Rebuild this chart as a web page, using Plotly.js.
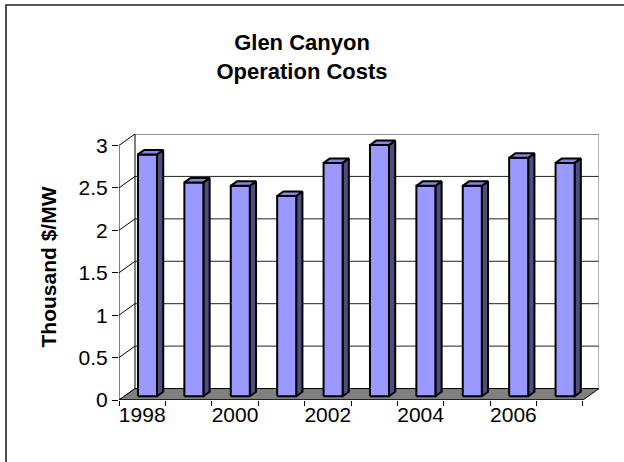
<!DOCTYPE html>
<html>
<head>
<meta charset="utf-8">
<script src="https://cdn.plot.ly/plotly-3.0.1.min.js"></script>
<style>html,body{margin:0;padding:0;background:#fff;}#chart{width:624px;height:462px;}</style>
</head>
<body>
<div id="chart"></div>
<script>
// ---- data ----
const years = [1998, 1999, 2000, 2001, 2002, 2003, 2004, 2005, 2006, 2007];
const costs = [2.85, 2.52, 2.48, 2.36, 2.75, 2.96, 2.48, 2.48, 2.81, 2.75];
const yTicks = [0, 0.5, 1, 1.5, 2, 2.5, 3];
const xLabelIdx = [0, 2, 4, 6, 8];
const xLabels = ['1998', '2000', '2002', '2004', '2006'];

// ---- 3D projection style constants ----
const DX = 0.345;   // depth offset in category units
const DY = 0.135;   // depth offset in value units
const D0 = 0.33, D1 = 0.72; // bar depth span (fraction)
const HW = 0.205;   // bar half width
const n = years.length;
const xL = -0.5, xR = n - 0.5;
const yMax = 3;

const FONT = '"Liberation Sans", Arial, sans-serif';

// back wall gridlines
const gx = [], gy = [];
yTicks.forEach(v => { gx.push(xL + DX, xR + DX, null); gy.push(v + DY, v + DY, null); });
// left wall diagonals + front axis line + back wall left edge
const lx = [], ly = [];
yTicks.forEach(v => { lx.push(xL, xL + DX, null); ly.push(v, v + DY, null); });
lx.push(xL, xL, null, xL + DX, xL + DX, null); ly.push(0, yMax, null, DY, yMax + DY, null);
// back wall right edge
const rx = [xR + DX, xR + DX], ry = [DY, yMax + DY];

// floor
const fx = [xL, xR, xR + DX, xL + DX, xL], fy = [0, 0, DY, DY, 0];

// bars
const frX = [], frY = [], sdX = [], sdY = [], tpX = [], tpY = [];
costs.forEach((v, i) => {
  const a = i - HW, b = i + HW;
  frX.push(a + D0 * DX, b + D0 * DX, b + D0 * DX, a + D0 * DX, a + D0 * DX, null);
  frY.push(D0 * DY, D0 * DY, v + D0 * DY, v + D0 * DY, D0 * DY, null);
  sdX.push(b + D0 * DX, b + D1 * DX, b + D1 * DX, b + D0 * DX, b + D0 * DX, null);
  sdY.push(D0 * DY, D1 * DY, v + D1 * DY, v + D0 * DY, D0 * DY, null);
  tpX.push(a + D0 * DX, b + D0 * DX, b + D1 * DX, a + D1 * DX, a + D0 * DX, null);
  tpY.push(v + D0 * DY, v + D0 * DY, v + D1 * DY, v + D1 * DY, v + D0 * DY, null);
});

const ln = (x, y, color, w) => ({ x, y, type: 'scatter', mode: 'lines', line: { color, width: w }, hoverinfo: 'skip', showlegend: false, connectgaps: false });
const poly = (x, y, fill, w) => ({ x, y, type: 'scatter', mode: 'lines', fill: 'toself', fillcolor: fill, line: { color: '#000', width: w }, hoverinfo: 'skip', showlegend: false });

const traces = [
  ln(gx, gy, '#222', 1),
  ln(rx, ry, '#808080', 1.2),
  ln(lx, ly, '#000', 1),
  poly(fx, fy, '#808080', 1),
  poly(sdX, sdY, '#4D4D80', 2),
  poly(frX, frY, '#9999FF', 2),
  poly(tpX, tpY, '#8585E6', 2),
  { x: [xL, xR], y: [0, 0], xaxis: 'x2', yaxis: 'y', type: 'scatter', mode: 'none', hoverinfo: 'skip', showlegend: false }
];

const plotL = 119, plotR = 599, plotT = 134, plotB = 400;
const W = 624, H = 462;
const pw = plotR - plotL, ph = plotB - plotT;

const boundaryTicks = [];
for (let i = 0; i <= n; i++) boundaryTicks.push(i - 0.5);

const layout = {
  width: W, height: H,
  margin: { l: plotL, r: W - plotR, t: plotT, b: H - plotB, pad: 0 },
  paper_bgcolor: '#fff', plot_bgcolor: 'rgba(0,0,0,0)',
  font: { family: FONT, color: '#000' },
  title: {
    text: '<b>Glen Canyon<br>Operation Costs</b>',
    font: { family: FONT, size: 22, color: '#000' },
    x: 302 / W, xref: 'container', xanchor: 'center',
    y: 1 - 50 / H, yref: 'container', yanchor: 'middle'
  },
  xaxis: {
    range: [xL, xR + DX], showgrid: false, zeroline: false, showline: false,
    tickmode: 'array', tickvals: xLabelIdx, ticktext: xLabels, ticks: '',
    tickfont: { family: FONT, size: 21, color: '#000' }, fixedrange: true
  },
  xaxis2: {
    overlaying: 'x', anchor: 'y', side: 'bottom', range: [xL, xR + DX],
    showgrid: false, zeroline: false, showline: false, showticklabels: false,
    tickmode: 'array', tickvals: boundaryTicks, ticks: 'outside', ticklen: 5, tickwidth: 1, tickcolor: '#000'
  },
  yaxis: {
    range: [0, yMax + DY], showgrid: false, zeroline: false, showline: false,
    tickmode: 'array', tickvals: yTicks, ticktext: yTicks.map(String),
    ticks: 'outside', ticklen: 6, tickwidth: 1, tickcolor: '#000',
    tickfont: { family: FONT, size: 21, color: '#000' },
    title: { text: '<b>Thousand $/MW</b>', font: { family: FONT, size: 21, color: '#000' }, standoff: 16 },
    fixedrange: true
  },
  shapes: [
    { type: 'line', xref: 'x', yref: 'y', x0: xL, x1: xR, y0: 0, y1: 0, line: { color: '#000', width: 1.2 } },
    { type: 'rect', xref: 'paper', yref: 'paper',
      x0: (6 - plotL) / pw, x1: (W + 20 - plotL) / pw,
      y0: (plotB - (H + 20)) / ph, y1: (plotB - 5) / ph,
      line: { color: '#222', width: 1.6 }, fillcolor: 'rgba(0,0,0,0)', layer: 'below' }
  ]
};

Plotly.newPlot('chart', traces, layout, { staticPlot: true, displayModeBar: false });
</script>
</body>
</html>
